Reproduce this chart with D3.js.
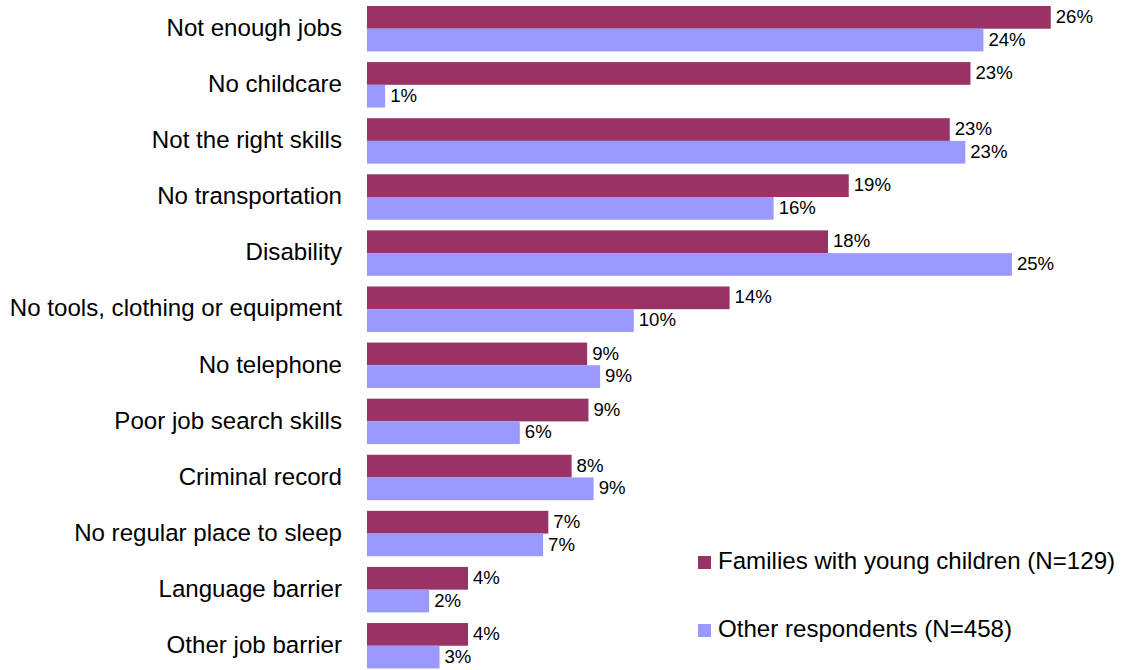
<!DOCTYPE html>
<html>
<head>
<meta charset="utf-8">
<script src="https://cdn.jsdelivr.net/npm/d3@7"></script>
<style>
  html, body { margin: 0; padding: 0; background: #ffffff; }
  svg { display: block; font-family: "Liberation Sans", Arial, sans-serif; }
</style>
</head>
<body>
<svg id="chart" width="1129" height="670"></svg>
<script>
// Reported job barriers, percent of respondents in each group
const categories = [
  "Not enough jobs",
  "No childcare",
  "Not the right skills",
  "No transportation",
  "Disability",
  "No tools, clothing or equipment",
  "No telephone",
  "Poor job search skills",
  "Criminal record",
  "No regular place to sleep",
  "Language barrier",
  "Other job barrier"
];
const familiesValues = [26.4, 23.3, 22.5, 18.6, 17.8, 14.0, 8.5, 8.55, 7.9, 7.0, 3.9, 3.9];
const otherValues    = [23.8, 0.7, 23.1, 15.7, 24.9, 10.3, 9.0, 5.9, 8.75, 6.8, 2.4, 2.8];
const seriesNames = ["Families with young children (N=129)", "Other respondents (N=458)"];
const seriesColors = ["#993366", "#9999FF"];

const svg = d3.select("#chart");

const plotLeft = 367;
const x = d3.scaleLinear().domain([0, 30]).range([plotLeft, plotLeft + 777]);

const y = d3.scaleBand()
  .domain(categories)
  .range([0.67, 673.8])
  .paddingInner(0.19)
  .paddingOuter(0.095);

const sub = d3.scaleBand()
  .domain([0, 1])
  .range([0, y.bandwidth()]);

const rows = categories.map((c, i) => ({
  category: c,
  values: [familiesValues[i], otherValues[i]]
}));

const pct = v => Math.round(v) + "%";

// Category labels, right-aligned against the bars
svg.append("g")
  .selectAll("text")
  .data(categories)
  .join("text")
  .attr("x", plotLeft - 25)
  .attr("y", d => y(d) + y.bandwidth() / 2)
  .attr("dy", "0.3em")
  .attr("text-anchor", "end")
  .attr("font-size", 24.1)
  .attr("fill", "#000")
  .text(d => d);

// Bars and value labels for each group
const groups = svg.append("g")
  .selectAll("g")
  .data(rows)
  .join("g")
  .attr("transform", d => `translate(0,${y(d.category)})`);

const cells = groups.selectAll("g")
  .data(d => d.values.map((v, k) => ({ v, k })))
  .join("g");

cells.append("rect")
  .attr("x", x(0))
  .attr("y", d => sub(d.k))
  .attr("width", d => x(d.v) - x(0))
  .attr("height", sub.bandwidth())
  .attr("fill", d => seriesColors[d.k]);

cells.append("text")
  .attr("x", d => x(d.v) + 5)
  .attr("y", d => sub(d.k) + sub.bandwidth() / 2)
  .attr("dy", "0.3em")
  .attr("font-size", 18.6)
  .attr("fill", "#000")
  .text(d => pct(d.v));

// Legend
const legend = svg.append("g")
  .selectAll("g")
  .data(seriesNames)
  .join("g")
  .attr("transform", (d, i) => `translate(698,${569 + i * 68})`);

legend.append("rect")
  .attr("x", 0)
  .attr("y", -13)
  .attr("width", 13)
  .attr("height", 13)
  .attr("fill", (d, i) => seriesColors[i]);

legend.append("text")
  .attr("x", 20)
  .attr("y", 0)
  .attr("font-size", 24.1)
  .attr("fill", "#000")
  .text(d => d);
</script>
</body>
</html>
